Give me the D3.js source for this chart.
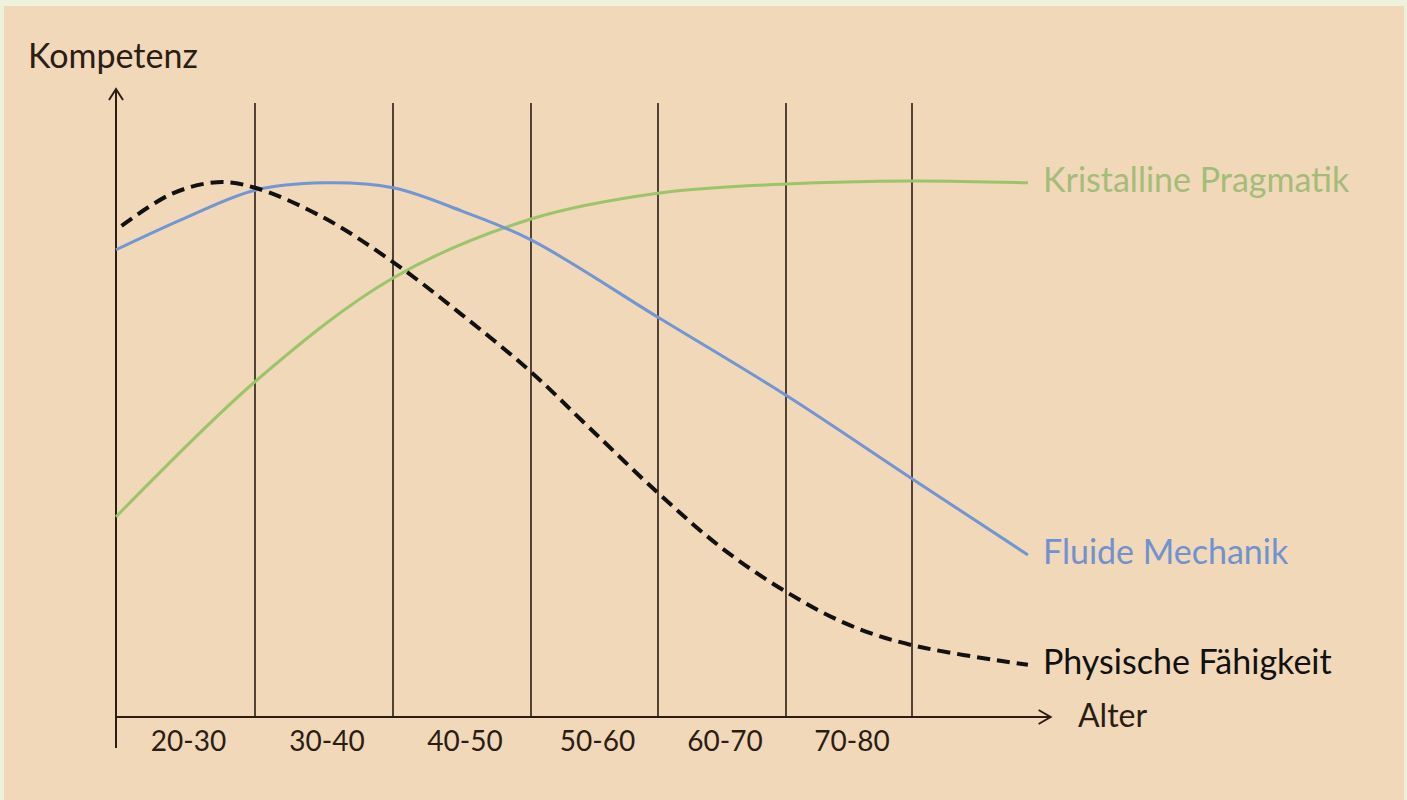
<!doctype html>
<html lang="de">
  <head>
    <meta charset="UTF-8" />
    <title>Kompetenz nach Alter</title>
    <script src="https://d3js.org/d3.v7.min.js"></script>
    <style>
      html, body { margin: 0; padding: 0; background: #eef2da; }
      svg { display: block; }
      text { font-family: Lato, "Open Sans", sans-serif; }
    </style>
  </head>
  <body>
    <svg width="1407" height="800"></svg>

    <script>
      // age group boundaries and their labels
      const bounds = [20, 30, 40, 50, 60, 70, 80];
      const groups = ["20-30", "30-40", "40-50", "50-60", "60-70", "70-80"];

      // [age, competence 0-100]
      const kristallin = [
        [20, 32.6], [30, 54.6], [40, 71.5], [50, 81.1],
        [60, 85.3], [70, 86.8], [80, 87.3], [89.2, 87.0]
      ];
      const fluide = [
        [20, 76.1], [25, 81.3], [30, 85.8], [35, 87.0], [40, 86.2], [45, 82.4],
        [50, 77.7], [60, 65.1], [70, 52.4], [80, 38.8], [89.2, 26.4]
      ];
      const physisch = [
        [20.4, 80.0], [24, 85.2], [27.3, 87.1], [30, 86.2], [35, 81.3], [40, 74.1],
        [45, 65.5], [50, 56.2], [54.6, 47.1], [60, 36.5], [65, 27.5], [70, 20.4],
        [75, 15.0], [80, 11.7], [89.2, 8.5]
      ];

      const series = [
        { name: "Kristalline Pragmatik", values: kristallin, color: "#9cc46a", text: "#a3bd79", dash: null, w: 3 },
        { name: "Fluide Mechanik", values: fluide, color: "#7395d4", text: "#7291cf", dash: null, w: 3 },
        { name: "Physische Fähigkeit", values: physisch, color: "#111", text: "#111", dash: "13,7", w: 4 }
      ];

      const svg = d3.select("svg");

      svg.append("rect")
        .attr("x", 4).attr("y", 6)
        .attr("width", 1400).attr("height", 800)
        .attr("fill", "#f0d8b9");

      const x = d3.scaleLinear()
        .domain(bounds)
        .range([116, 255, 393, 531, 658, 786, 912]);
      const y = d3.scaleLinear().domain([0, 100]).range([717, 103]);

      const ink = "#2b1d14";

      // vertical separators
      svg.selectAll(".sep")
        .data(bounds.slice(1))
        .enter()
        .append("line")
        .attr("class", "sep")
        .attr("x1", (d) => x(d)).attr("x2", (d) => x(d))
        .attr("y1", y(100)).attr("y2", y(0))
        .attr("stroke", ink)
        .attr("stroke-width", 1.6);

      // axes with open arrow heads
      svg.append("line")
        .attr("x1", x(20)).attr("x2", x(20))
        .attr("y1", 748).attr("y2", 89)
        .attr("stroke", ink).attr("stroke-width", 2);
      svg.append("path")
        .attr("d", `M${x(20) - 7},${100} L${x(20)},${89} L${x(20) + 7},${100}`)
        .attr("fill", "none").attr("stroke", ink).attr("stroke-width", 2);

      svg.append("line")
        .attr("x1", x(20)).attr("x2", x(91))
        .attr("y1", y(0)).attr("y2", y(0))
        .attr("stroke", ink).attr("stroke-width", 2);
      svg.append("path")
        .attr("d", `M${x(91) - 12},${y(0) - 7} L${x(91)},${y(0)} L${x(91) - 12},${y(0) + 7}`)
        .attr("fill", "none").attr("stroke", ink).attr("stroke-width", 2);

      // age group labels
      svg.selectAll(".grp")
        .data(groups)
        .enter()
        .append("text")
        .attr("class", "grp")
        .attr("x", (d, i) => (x(bounds[i]) + x(bounds[i + 1])) / 2 + 3)
        .attr("y", 751)
        .attr("text-anchor", "middle")
        .attr("font-size", 28)
        .attr("fill", ink)
        .text((d) => d);

      svg.append("text")
        .attr("x", 28).attr("y", 68)
        .attr("font-size", 34)
        .attr("fill", ink)
        .text("Kompetenz");

      svg.append("text")
        .attr("x", 1078).attr("y", 727)
        .attr("font-size", 32)
        .attr("fill", ink)
        .text("Alter");

      const line = d3.line()
        .x((d) => x(d[0]))
        .y((d) => y(d[1]))
        .curve(d3.curveCatmullRom.alpha(0.5));

      svg.selectAll(".curve")
        .data(series)
        .enter()
        .append("path")
        .attr("class", "curve")
        .attr("d", (d) => line(d.values))
        .attr("fill", "none")
        .attr("stroke", (d) => d.color)
        .attr("stroke-width", (d) => d.w)
        .attr("stroke-dasharray", (d) => d.dash);

      // labels at the line ends
      svg.selectAll(".lbl")
        .data(series)
        .enter()
        .append("text")
        .attr("class", "lbl")
        .attr("x", 1043)
        .attr("y", (d) => y(d.values[d.values.length - 1][1]) + 9)
        .attr("font-size", 34)
        .attr("fill", (d) => d.text)
        .text((d) => d.name);
    </script>
  </body>
</html>
